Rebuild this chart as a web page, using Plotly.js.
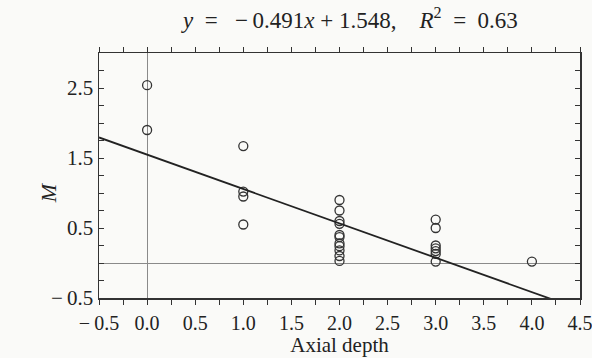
<!DOCTYPE html>
<html>
<head>
<meta charset="utf-8">
<script src="https://cdn.plot.ly/plotly-3.0.1.min.js"></script>
<style>
  html, body { margin: 0; padding: 0; background: #fafaf8; }
  #chart { width: 592px; height: 358px; }
</style>
</head>
<body>
<div id="chart"></div>
<script>
// Observed M values grouped by axial depth
const depth0 = [2.54, 1.90];
const depth1 = [1.67, 1.02, 0.95, 0.55];
const depth2 = [0.90, 0.75, 0.60, 0.56, 0.40, 0.37, 0.28, 0.24, 0.18, 0.10, 0.03];
const depth3 = [0.62, 0.50, 0.25, 0.21, 0.17, 0.13, 0.02];
const depth4 = [0.02];

// Least-squares fit reported in the title
const slope = -0.491;
const intercept = 1.548;
const rSquared = 0.63;

// Tick labels
const xTickVals = [-0.5, 0.0, 0.5, 1.0, 1.5, 2.0, 2.5, 3.0, 3.5, 4.0, 4.5];
const xTickText = ['\u2212\u20090.5', '0.0', '0.5', '1.0', '1.5', '2.0', '2.5', '3.0', '3.5', '4.0', '4.5'];
const yTickVals = [-0.5, 0.5, 1.5, 2.5];
const yTickText = ['\u2212\u20090.5', '0.5', '1.5', '2.5'];

const groups = [[0, depth0], [1, depth1], [2, depth2], [3, depth3], [4, depth4]];
const px = [], py = [];
groups.forEach(([d, vals]) => vals.forEach(v => { px.push(d); py.push(v); }));

const xRange = [-0.5, 4.5];
const fitX = xRange.slice();
const fitY = fitX.map(x => slope * x + intercept);

const ink = '#333333';
const serif = 'Liberation Serif, Times New Roman, serif';

const traces = [
  {
    x: px, y: py, type: 'scatter', mode: 'markers',
    marker: { symbol: 'circle-open', size: 9, color: ink, line: { width: 1.3, color: ink } },
    hoverinfo: 'x+y'
  },
  {
    x: fitX, y: fitY, type: 'scatter', mode: 'lines',
    line: { color: '#222222', width: 1.8 }, hoverinfo: 'skip'
  }
];

const fmt = (v, n) => (v < 0 ? '\u2212\u2009' + Math.abs(v).toFixed(n) : v.toFixed(n));
const titleText = '<i>y</i>  =   ' + fmt(slope, 3) + '<i>x</i> + ' + intercept.toFixed(3) +
  ',    <i>R</i><sup>2</sup>  =  ' + rSquared.toFixed(2);

const layout = {
  width: 592, height: 358,
  margin: { l: 99, r: 12, t: 53, b: 60 },
  paper_bgcolor: '#fafaf8', plot_bgcolor: '#fafaf8',
  showlegend: false,
  font: { family: serif, color: ink, size: 20 },
  title: { text: titleText, x: 0.592, xanchor: 'center', y: 0.945, yanchor: 'middle',
           font: { family: serif, size: 23, color: '#222' } },
  xaxis: {
    range: xRange, tickmode: 'array', tickvals: xTickVals, ticktext: xTickText,
    ticks: 'outside', ticklen: 5, tickcolor: ink, tickwidth: 1,
    minor: { tickmode: 'linear', tick0: -0.5, dtick: 0.25, ticks: 'outside', ticklen: 5, tickcolor: ink, showgrid: false },
    showline: true, linecolor: ink, linewidth: 1.5, mirror: 'ticks',
    showgrid: false, zeroline: true, zerolinecolor: '#8a8a8a', zerolinewidth: 1,
    ticklabeloverflow: 'allow', ticklabelstandoff: 1,
    tickfont: { family: serif, size: 20, color: '#222' },
    title: { text: 'Axial depth', font: { family: serif, size: 21, color: '#222' }, standoff: 3 }
  },
  yaxis: {
    range: [-0.5, 3.0], tickmode: 'array', tickvals: yTickVals, ticktext: yTickText,
    ticks: 'inside', ticklen: 5, tickcolor: ink, tickwidth: 1,
    minor: { tickmode: 'linear', tick0: -0.5, dtick: 0.25, ticks: 'inside', ticklen: 5, tickcolor: ink, showgrid: false },
    showline: true, linecolor: ink, linewidth: 1.5, mirror: 'ticks',
    showgrid: false, zeroline: true, zerolinecolor: '#8a8a8a', zerolinewidth: 1,
    tickfont: { family: serif, size: 21, color: '#222' }
  },
  annotations: [{
    text: '<i>M</i>', textangle: -90, showarrow: false,
    xref: 'paper', yref: 'paper', x: -0.105, y: 0.43, xanchor: 'center', yanchor: 'middle',
    font: { family: serif, size: 22, color: '#222' }
  }]
};

Plotly.newPlot('chart', traces, layout, { displayModeBar: false, staticPlot: true });
</script>
</body>
</html>
